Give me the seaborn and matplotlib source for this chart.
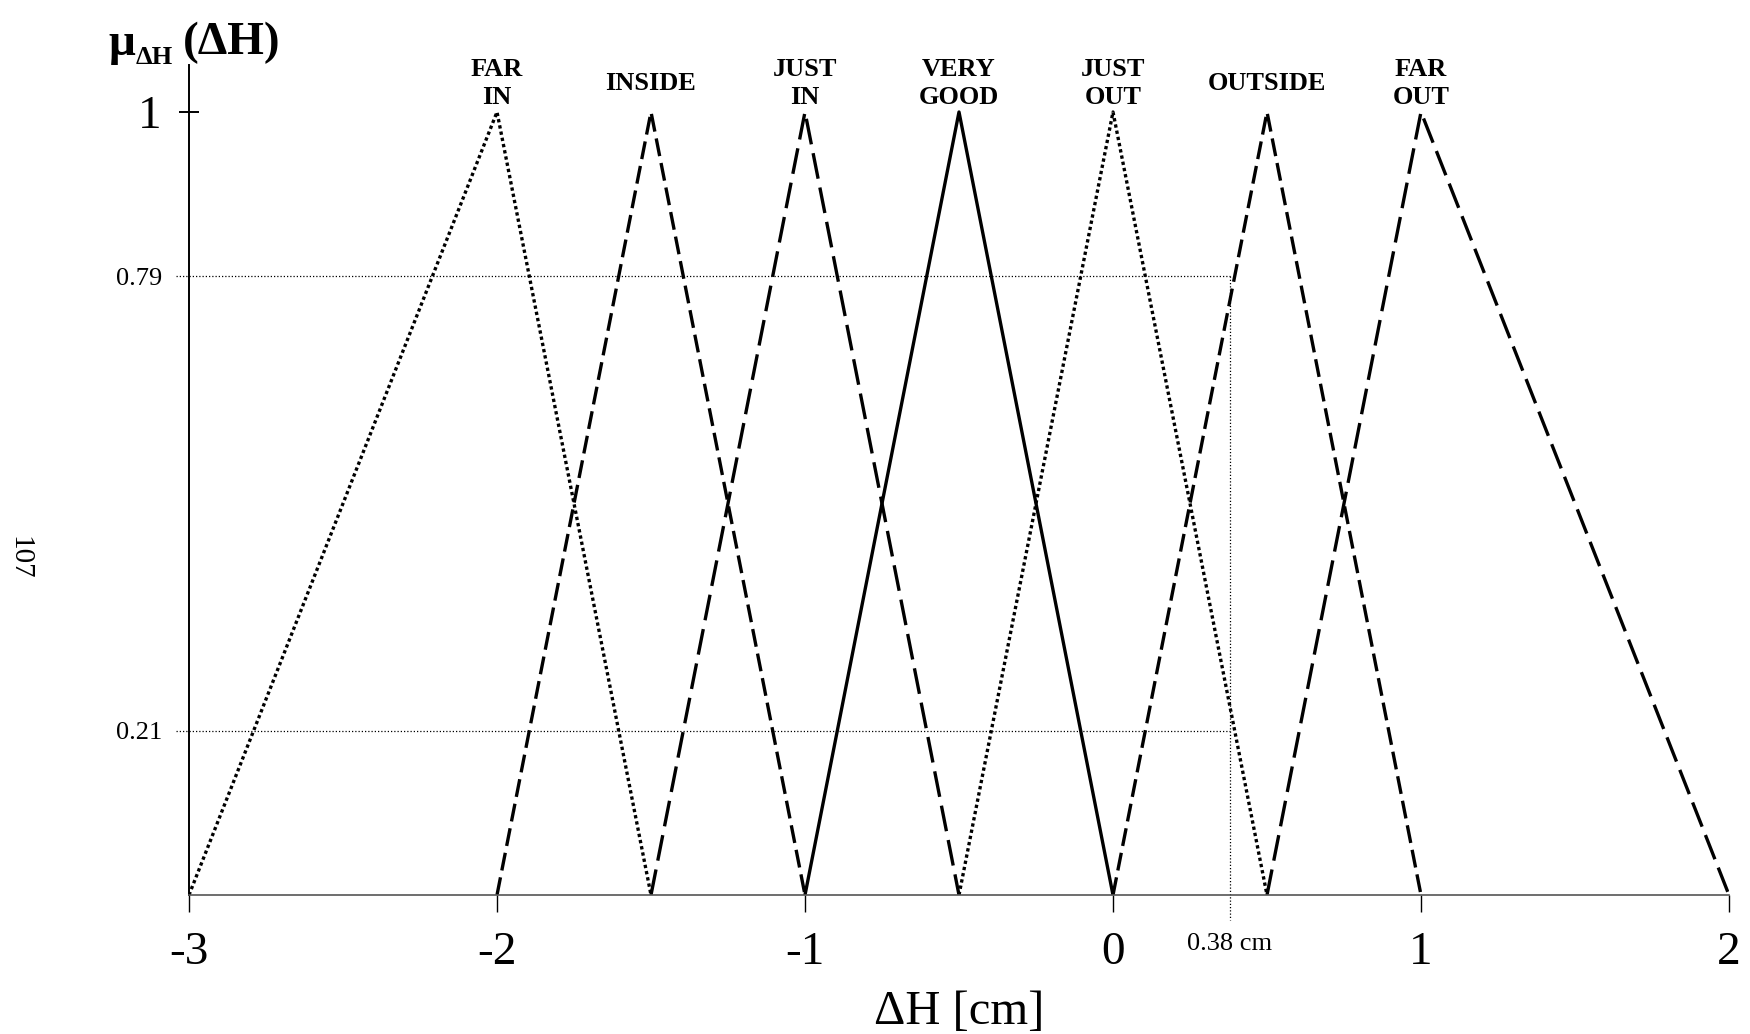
import matplotlib
matplotlib.use("Agg")
import matplotlib.pyplot as plt
import pandas as pd
import seaborn as sns

# Fuzzy sets of the height deviation ΔH (triangular membership functions)
set_labels = ["FAR\nIN", "INSIDE", "JUST\nIN", "VERY\nGOOD", "JUST\nOUT", "OUTSIDE", "FAR\nOUT"]
left_feet = [-3.0, -2.0, -1.5, -1.0, -0.5, 0.0, 0.5]
peaks = [-2.0, -1.5, -1.0, -0.5, 0.0, 0.5, 1.0]
right_feet = [-1.5, -1.0, -0.5, 0.0, 0.5, 1.0, 2.0]

# Crisp input and the two membership degrees it produces
crisp_input = 0.38
memberships = [0.79, 0.21]

x_ticks = [-3, -2, -1, 0, 1, 2]

# line styles (dash patterns in units of line width)
dotted = (1.0, 0.9)
short_dash = (5.4, 2.1)
long_dash = (7.8, 2.7)
dash_map = {
    "FAR\nIN": dotted,
    "INSIDE": short_dash,
    "JUST\nIN": long_dash,
    "VERY\nGOOD": "",
    "JUST\nOUT": dotted,
    "OUTSIDE": short_dash,
    "FAR\nOUT": long_dash,
}

rows = []
for name, a, b, c in zip(set_labels, left_feet, peaks, right_feet):
    for i, (xv, yv) in enumerate([(a, 0.0), (b, 1.0), (c, 0.0)]):
        rows.append({"set": name, "order": i, "dH": xv, "mu": yv})
df = pd.DataFrame(rows)

sns.set_theme(style="white")
plt.rcParams["font.family"] = ["Liberation Serif", "DejaVu Serif"]
plt.rcParams["axes.unicode_minus"] = False
plt.rcParams["text.color"] = "black"
plt.rcParams["axes.labelcolor"] = "black"
plt.rcParams["xtick.color"] = "black"
plt.rcParams["ytick.color"] = "black"

W, H = 1750, 1034
fig = plt.figure(figsize=(W / 100, H / 100), dpi=100)
ax = fig.add_axes([189 / W, 1 - 895 / H, 1540 / W, 830 / H])

sns.lineplot(
    data=df, x="dH", y="mu", style="set", style_order=set_labels,
    dashes=dash_map, color="black", linewidth=2.4, estimator=None,
    sort=False, legend=False, ax=ax,
)

ax.set_xlim(x_ticks[0], x_ticks[-1])
ax.set_ylim(0, 1.06)

# Reference lines for the crisp input
x_start = x_ticks[0] - 0.042
for m in memberships:
    ax.plot([x_start, crisp_input], [m, m], color="black", linewidth=0.9,
            linestyle=(0, (1, 1.6)), clip_on=False)
ax.plot([crisp_input, crisp_input], [max(memberships), -0.032], color="black",
        linewidth=0.9, linestyle=(0, (1, 1.6)), clip_on=False)
ax.annotate(f"{crisp_input:.2f} cm", xy=(crisp_input, 0), xytext=(0, -35),
            textcoords="offset points", ha="center", va="center", fontsize=19)

# Set names above each peak
for name, p in zip(set_labels, peaks):
    ax.text(p, 1.036, name, ha="center", va="center", fontsize=19,
            fontweight="bold", linespacing=1.3)

# Spines
sns.despine(ax=ax)
ax.spines["left"].set_color("black")
ax.spines["left"].set_linewidth(1.4)
ax.spines["bottom"].set_color("#555555")
ax.spines["bottom"].set_linewidth(1.2)

# X axis
ax.set_xticks(x_ticks)
ax.set_xticklabels([str(t) for t in x_ticks])
ax.tick_params(axis="x", direction="out", length=12, width=1.0, pad=14,
               labelsize=34, bottom=True)
ax.set_xlabel("ΔH [cm]", fontsize=35, labelpad=12)

# Y axis: major tick at 1, membership levels as minor labels
ax.set_yticks([1])
ax.set_yticklabels(["1"])
ax.tick_params(axis="y", which="major", direction="inout", length=14,
               width=1.4, pad=13, labelsize=34, left=True)
ax.set_yticks(memberships, minor=True)
ax.set_yticklabels([f"{m:.2f}" for m in memberships], minor=True)
ax.tick_params(axis="y", which="minor", length=0, pad=19, labelsize=19, left=True)
ax.set_ylabel("")

# Axis title μ_ΔH(ΔH)
fig.text(108 / W, 1 - 55 / H, "μ", fontsize=34, fontweight="bold",
         ha="left", va="baseline")
fig.text(136 / W, 1 - 64 / H, "ΔH", fontsize=19, fontweight="bold",
         ha="left", va="baseline")
fig.text(183 / W, 1 - 54 / H, "(ΔH)", fontsize=34, fontweight="bold",
         ha="left", va="baseline")

# Page number
fig.text(19 / W, 1 - 558 / H, "107", rotation=-90, ha="center", va="center",
         fontsize=21)

fig.savefig("out.png", dpi=100)
